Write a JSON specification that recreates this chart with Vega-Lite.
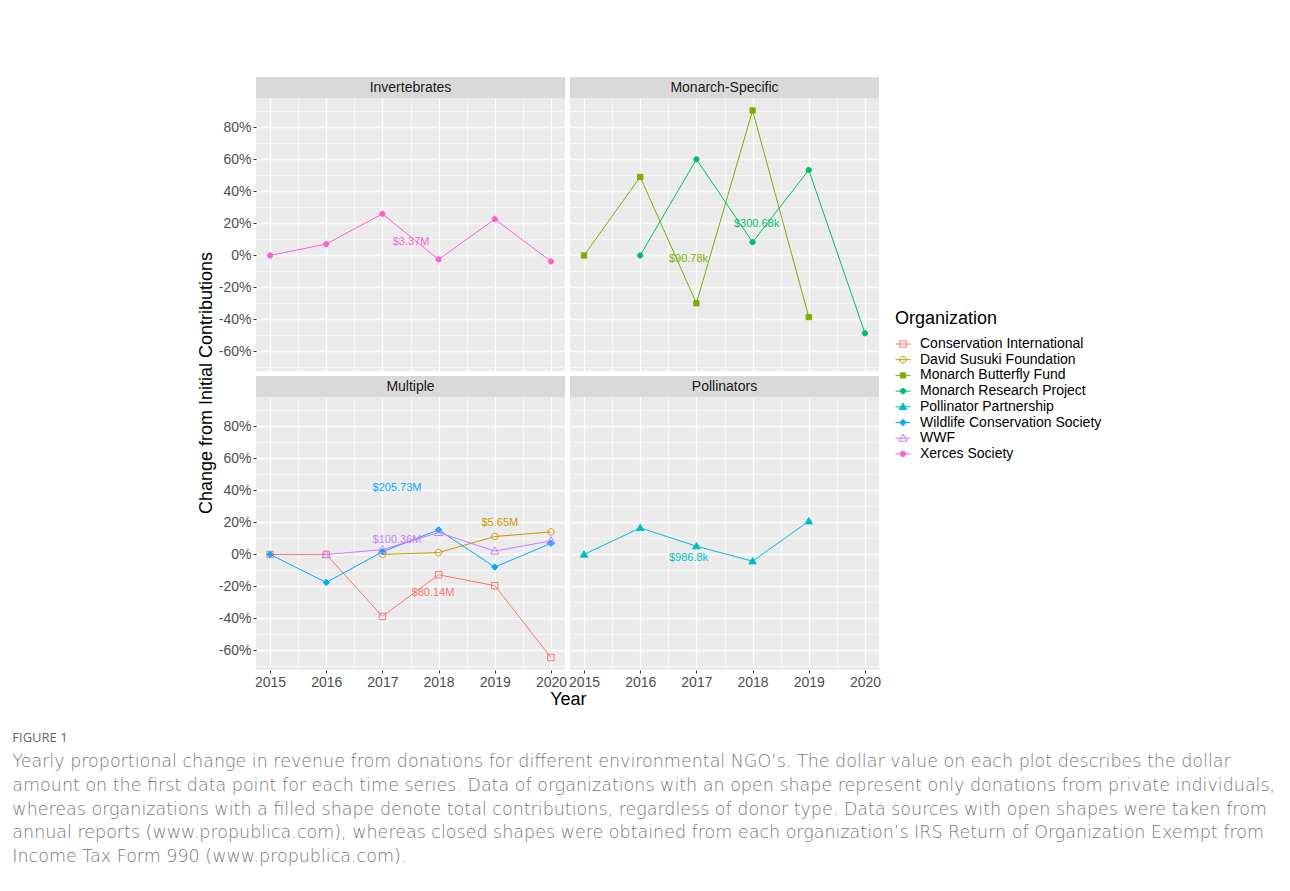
{
  "$schema": "https://vega.github.io/schema/vega-lite/v6.json",
  "background": "white",
  "padding": {"left": 12, "top": 77, "right": 5, "bottom": 5},
  "datasets": {
    "pts": [
      {"panel": "Invertebrates", "org": "Xerces Society", "year": 2015, "change": 0},
      {"panel": "Invertebrates", "org": "Xerces Society", "year": 2016, "change": 0.071},
      {"panel": "Invertebrates", "org": "Xerces Society", "year": 2017, "change": 0.26},
      {"panel": "Invertebrates", "org": "Xerces Society", "year": 2018, "change": -0.025},
      {"panel": "Invertebrates", "org": "Xerces Society", "year": 2019, "change": 0.227},
      {"panel": "Invertebrates", "org": "Xerces Society", "year": 2020, "change": -0.037},
      {"panel": "Monarch-Specific", "org": "Monarch Butterfly Fund", "year": 2015, "change": 0},
      {"panel": "Monarch-Specific", "org": "Monarch Butterfly Fund", "year": 2016, "change": 0.491},
      {"panel": "Monarch-Specific", "org": "Monarch Butterfly Fund", "year": 2017, "change": -0.299},
      {"panel": "Monarch-Specific", "org": "Monarch Butterfly Fund", "year": 2018, "change": 0.906},
      {"panel": "Monarch-Specific", "org": "Monarch Butterfly Fund", "year": 2019, "change": -0.385},
      {"panel": "Monarch-Specific", "org": "Monarch Research Project", "year": 2016, "change": 0},
      {"panel": "Monarch-Specific", "org": "Monarch Research Project", "year": 2017, "change": 0.601},
      {"panel": "Monarch-Specific", "org": "Monarch Research Project", "year": 2018, "change": 0.083},
      {"panel": "Monarch-Specific", "org": "Monarch Research Project", "year": 2019, "change": 0.534},
      {"panel": "Monarch-Specific", "org": "Monarch Research Project", "year": 2020, "change": -0.486},
      {"panel": "Multiple", "org": "Conservation International", "year": 2015, "change": 0},
      {"panel": "Multiple", "org": "Conservation International", "year": 2016, "change": 0},
      {"panel": "Multiple", "org": "Conservation International", "year": 2017, "change": -0.387},
      {"panel": "Multiple", "org": "Conservation International", "year": 2018, "change": -0.127},
      {"panel": "Multiple", "org": "Conservation International", "year": 2019, "change": -0.195},
      {"panel": "Multiple", "org": "Conservation International", "year": 2020, "change": -0.644},
      {"panel": "Multiple", "org": "David Susuki Foundation", "year": 2017, "change": 0},
      {"panel": "Multiple", "org": "David Susuki Foundation", "year": 2018, "change": 0.012},
      {"panel": "Multiple", "org": "David Susuki Foundation", "year": 2019, "change": 0.112},
      {"panel": "Multiple", "org": "David Susuki Foundation", "year": 2020, "change": 0.141},
      {"panel": "Multiple", "org": "Wildlife Conservation Society", "year": 2015, "change": 0},
      {"panel": "Multiple", "org": "Wildlife Conservation Society", "year": 2016, "change": -0.175},
      {"panel": "Multiple", "org": "Wildlife Conservation Society", "year": 2017, "change": 0.017},
      {"panel": "Multiple", "org": "Wildlife Conservation Society", "year": 2018, "change": 0.154},
      {"panel": "Multiple", "org": "Wildlife Conservation Society", "year": 2019, "change": -0.079},
      {"panel": "Multiple", "org": "Wildlife Conservation Society", "year": 2020, "change": 0.069},
      {"panel": "Multiple", "org": "WWF", "year": 2016, "change": 0},
      {"panel": "Multiple", "org": "WWF", "year": 2017, "change": 0.03},
      {"panel": "Multiple", "org": "WWF", "year": 2018, "change": 0.137},
      {"panel": "Multiple", "org": "WWF", "year": 2019, "change": 0.021},
      {"panel": "Multiple", "org": "WWF", "year": 2020, "change": 0.085},
      {"panel": "Pollinators", "org": "Pollinator Partnership", "year": 2015, "change": 0},
      {"panel": "Pollinators", "org": "Pollinator Partnership", "year": 2016, "change": 0.166},
      {"panel": "Pollinators", "org": "Pollinator Partnership", "year": 2017, "change": 0.052},
      {"panel": "Pollinators", "org": "Pollinator Partnership", "year": 2018, "change": -0.042},
      {"panel": "Pollinators", "org": "Pollinator Partnership", "year": 2019, "change": 0.208}
    ],
    "labs": [
      {"panel": "Invertebrates", "org": "Xerces Society", "year": 2017.51, "change": 0.083, "label": "$3.37M"},
      {"panel": "Monarch-Specific", "org": "Monarch Butterfly Fund", "year": 2016.86, "change": -0.023, "label": "$90.78k"},
      {"panel": "Monarch-Specific", "org": "Monarch Research Project", "year": 2018.07, "change": 0.196, "label": "$300.68k"},
      {"panel": "Multiple", "org": "Wildlife Conservation Society", "year": 2017.26, "change": 0.417, "label": "$205.73M"},
      {"panel": "Multiple", "org": "David Susuki Foundation", "year": 2019.09, "change": 0.198, "label": "$5.65M"},
      {"panel": "Multiple", "org": "WWF", "year": 2017.26, "change": 0.0875, "label": "$100.36M"},
      {"panel": "Multiple", "org": "Conservation International", "year": 2017.9, "change": -0.24, "label": "$80.14M"},
      {"panel": "Pollinators", "org": "Pollinator Partnership", "year": 2016.86, "change": -0.023, "label": "$986.8k"}
    ]
  },
  "title": {
    "text": "FIGURE 1",
    "subtitle": [
      "Yearly proportional change in revenue from donations for different environmental NGO’s. The dollar value on each plot describes the dollar",
      "amount on the first data point for each time series. Data of organizations with an open shape represent only donations from private individuals,",
      "whereas organizations with a filled shape denote total contributions, regardless of donor type. Data sources with open shapes were taken from",
      "annual reports (www.propublica.com), whereas closed shapes were obtained from each organization’s IRS Return of Organization Exempt from",
      "Income Tax Form 990 (www.propublica.com)."
    ],
    "orient": "bottom", "anchor": "start", "dx": -186, "offset": 23,
    "font": "Open Sans", "fontSize": 13, "fontWeight": "normal", "color": "#666666",
    "subtitleFont": "DejaVu Sans", "subtitleFontSize": 17.5, "subtitleFontWeight": 200, "subtitleColor": "#777777",
    "subtitleLineHeight": 23.8, "subtitlePadding": 8
  },
  "vconcat": [
    {
      "title": {"text": "Year", "orient": "bottom", "anchor": "middle", "dx": 29, "offset": 2, "font": "Liberation Sans", "fontSize": 18, "fontWeight": "normal", "color": "black"},
      "vconcat": [
        {
          "title": {"text": "Change from Initial Contributions", "orient": "left", "anchor": "middle", "offset": 2, "font": "Liberation Sans", "fontSize": 18, "fontWeight": "normal", "color": "black"},
          "spacing": 1,
          "vconcat": [
            {
              "spacing": 5,
              "hconcat": [
                {
                  "spacing": 0,
                  "vconcat": [
                    {"width": 309, "height": 21, "view": {"fill": "#D9D9D9", "stroke": null}, "data": {"values": [{"p": "Invertebrates"}]}, "mark": {"type": "text", "fontSize": 14, "font": "Liberation Sans", "color": "#1A1A1A"}, "encoding": {"text": {"field": "p"}}},
                    {
                      "width": 309, "height": 273,
                      "encoding": {
                        "x": {"field": "year", "type": "quantitative", "scale": {"domain": [2014.75, 2020.25], "nice": false, "zero": false}, "axis": {"values": [2015, 2015.5, 2016, 2016.5, 2017, 2017.5, 2018, 2018.5, 2019, 2019.5, 2020], "labels": false, "ticks": false, "title": null, "gridWidth": {"condition": {"test": "datum.value % 1 != 0", "value": 0.6}, "value": 1.3}}},
                        "y": {"field": "change", "type": "quantitative", "scale": {"domain": [-0.722, 0.984], "nice": false, "zero": false}, "axis": {"values": [-0.7, -0.6, -0.5, -0.4, -0.3, -0.2, -0.1, 0, 0.1, 0.2, 0.3, 0.4, 0.5, 0.6, 0.7, 0.8, 0.9], "labelExpr": "round(datum.value*100) % 20 != 0 ? '' : round(datum.value*100) + '%'", "labelOverlap": false, "tickOpacity": {"condition": {"test": "round(datum.value*100) % 20 != 0", "value": 0}, "value": 1}, "title": null, "gridWidth": {"condition": {"test": "round(datum.value*100) % 20 != 0", "value": 0.6}, "value": 1.3}}}
                      },
                      "layer": [
                        {"data": {"name": "pts"}, "transform": [{"filter": "datum.panel === 'Invertebrates'"}], "mark": {"type": "line", "strokeWidth": 1}, "encoding": {"color": {"field": "org", "type": "nominal", "scale": {"domain": ["Xerces Society", "WWF", "Wildlife Conservation Society", "Pollinator Partnership", "Monarch Research Project", "Monarch Butterfly Fund", "David Susuki Foundation", "Conservation International"], "range": ["#FF61CC", "#C77CFF", "#00A9FF", "#00BFC4", "#00BE67", "#7CAE00", "#CD9600", "#F8766D"]}, "legend": {"title": "Organization", "values": ["Conservation International", "David Susuki Foundation", "Monarch Butterfly Fund", "Monarch Research Project", "Pollinator Partnership", "Wildlife Conservation Society", "WWF", "Xerces Society"], "symbolType": "stroke", "orient": "none", "legendX": 639, "legendY": 233, "symbolSize": 225, "symbolStrokeWidth": 1, "labelFontSize": 14, "labelFont": "Liberation Sans", "labelColor": "transparent", "titleFontSize": 18, "titleFont": "Liberation Sans", "titleFontWeight": "normal", "titleColor": "transparent", "rowPadding": 0.7, "labelOffset": 9, "titlePadding": 8, "labelLimit": 400}}}},
                        {"data": {"name": "pts"}, "transform": [{"filter": "datum.panel === 'Invertebrates'"}], "mark": {"type": "point", "opacity": 1, "size": 225, "strokeWidth": 1}, "encoding": {
                          "shape": {"field": "org", "type": "nominal", "scale": {"domain": ["Conservation International", "David Susuki Foundation", "Monarch Butterfly Fund", "Monarch Research Project", "Pollinator Partnership", "Wildlife Conservation Society", "WWF", "Xerces Society"], "range": ["M-0.43,-0.43H0.43V0.43H-0.43Z", "M0.43,0C0.43,0.2375 0.2375,0.43 0,0.43C-0.2375,0.43 -0.43,0.2375 -0.43,0C-0.43,-0.2375 -0.2375,-0.43 0,-0.43C0.2375,-0.43 0.43,-0.2375 0.43,0Z", "M-0.35,-0.35H0.35V0.35H-0.35Z", "M0.35,0C0.35,0.1933 0.1933,0.35 0,0.35C-0.1933,0.35 -0.35,0.1933 -0.35,0C-0.35,-0.1933 -0.1933,-0.35 0,-0.35C0.1933,-0.35 0.35,-0.1933 0.35,0Z", "M0,-0.5L0.5,0.36L-0.5,0.36Z", "M0,-0.42L0.42,0L0,0.42L-0.42,0Z", "M0,-0.56L0.56,0.4L-0.56,0.4Z", "M0.35,0C0.35,0.1933 0.1933,0.35 0,0.35C-0.1933,0.35 -0.35,0.1933 -0.35,0C-0.35,-0.1933 -0.1933,-0.35 0,-0.35C0.1933,-0.35 0.35,-0.1933 0.35,0Z"]}, "legend": {"title": "Organization", "orient": "none", "legendX": 639, "legendY": 233, "symbolSize": 225, "symbolStrokeWidth": 1, "labelFontSize": 14, "labelFont": "Liberation Sans", "labelColor": "black", "titleFontSize": 18, "titleFont": "Liberation Sans", "titleFontWeight": "normal", "titleColor": "black", "rowPadding": 0.7, "labelOffset": 9, "titlePadding": 8, "labelLimit": 400}},
                          "stroke": {"field": "org", "type": "nominal", "scale": {"domain": ["Conservation International", "David Susuki Foundation", "Monarch Butterfly Fund", "Monarch Research Project", "Pollinator Partnership", "Wildlife Conservation Society", "WWF", "Xerces Society"], "range": ["#F8766D", "#CD9600", "#7CAE00", "#00BE67", "#00BFC4", "#00A9FF", "#C77CFF", "#FF61CC"]}, "legend": {"title": "Organization", "orient": "none", "legendX": 639, "legendY": 233, "symbolSize": 225, "symbolStrokeWidth": 1, "labelFontSize": 14, "labelFont": "Liberation Sans", "labelColor": "black", "titleFontSize": 18, "titleFont": "Liberation Sans", "titleFontWeight": "normal", "titleColor": "black", "rowPadding": 0.7, "labelOffset": 9, "titlePadding": 8, "labelLimit": 400}},
                          "fill": {"field": "org", "type": "nominal", "scale": {"domain": ["Conservation International", "David Susuki Foundation", "Monarch Butterfly Fund", "Monarch Research Project", "Pollinator Partnership", "Wildlife Conservation Society", "WWF", "Xerces Society"], "range": ["transparent", "transparent", "#7CAE00", "#00BE67", "#00BFC4", "#00A9FF", "transparent", "#FF61CC"]}, "legend": {"title": "Organization", "orient": "none", "legendX": 639, "legendY": 233, "symbolSize": 225, "symbolStrokeWidth": 1, "labelFontSize": 14, "labelFont": "Liberation Sans", "labelColor": "black", "titleFontSize": 18, "titleFont": "Liberation Sans", "titleFontWeight": "normal", "titleColor": "black", "rowPadding": 0.7, "labelOffset": 9, "titlePadding": 8, "labelLimit": 400}}
                        }},
                        {"data": {"name": "labs"}, "transform": [{"filter": "datum.panel === 'Invertebrates'"}], "mark": {"type": "text", "fontSize": 11, "font": "Liberation Sans"}, "encoding": {"text": {"field": "label"}, "color": {"field": "org", "type": "nominal", "legend": null}}}
                      ]
                    }
                  ]
                },
                {
                  "spacing": 0,
                  "vconcat": [
                    {"width": 309, "height": 21, "view": {"fill": "#D9D9D9", "stroke": null}, "data": {"values": [{"p": "Monarch-Specific"}]}, "mark": {"type": "text", "fontSize": 14, "font": "Liberation Sans", "color": "#1A1A1A"}, "encoding": {"text": {"field": "p"}}},
                    {
                      "width": 309, "height": 273,
                      "encoding": {
                        "x": {"field": "year", "type": "quantitative", "scale": {"domain": [2014.75, 2020.25], "nice": false, "zero": false}, "axis": {"values": [2015, 2015.5, 2016, 2016.5, 2017, 2017.5, 2018, 2018.5, 2019, 2019.5, 2020], "labels": false, "ticks": false, "title": null, "gridWidth": {"condition": {"test": "datum.value % 1 != 0", "value": 0.6}, "value": 1.3}}},
                        "y": {"field": "change", "type": "quantitative", "scale": {"domain": [-0.722, 0.984], "nice": false, "zero": false}, "axis": {"values": [-0.7, -0.6, -0.5, -0.4, -0.3, -0.2, -0.1, 0, 0.1, 0.2, 0.3, 0.4, 0.5, 0.6, 0.7, 0.8, 0.9], "labels": false, "ticks": false, "title": null, "gridWidth": {"condition": {"test": "round(datum.value*100) % 20 != 0", "value": 0.6}, "value": 1.3}}}
                      },
                      "layer": [
                        {"data": {"name": "pts"}, "transform": [{"filter": "datum.panel === 'Monarch-Specific'"}], "mark": {"type": "line", "strokeWidth": 1}, "encoding": {"color": {"field": "org", "type": "nominal"}}},
                        {"data": {"name": "pts"}, "transform": [{"filter": "datum.panel === 'Monarch-Specific'"}], "mark": {"type": "point", "opacity": 1, "size": 225, "strokeWidth": 1}, "encoding": {"shape": {"field": "org", "type": "nominal"}, "stroke": {"field": "org", "type": "nominal"}, "fill": {"field": "org", "type": "nominal"}}},
                        {"data": {"name": "labs"}, "transform": [{"filter": "datum.panel === 'Monarch-Specific'"}], "mark": {"type": "text", "fontSize": 11, "font": "Liberation Sans"}, "encoding": {"text": {"field": "label"}, "color": {"field": "org", "type": "nominal", "legend": null}}}
                      ]
                    }
                  ]
                }
              ]
            },
            {
              "spacing": 1,
              "hconcat": [
                {
                  "spacing": 0,
                  "vconcat": [
                    {"width": 309, "height": 21, "view": {"fill": "#D9D9D9", "stroke": null}, "data": {"values": [{"p": "Multiple"}]}, "mark": {"type": "text", "fontSize": 14, "font": "Liberation Sans", "color": "#1A1A1A"}, "encoding": {"text": {"field": "p"}}},
                    {
                      "width": 309, "height": 273,
                      "encoding": {
                        "x": {"field": "year", "type": "quantitative", "scale": {"domain": [2014.75, 2020.25], "nice": false, "zero": false}, "axis": {"values": [2015, 2015.5, 2016, 2016.5, 2017, 2017.5, 2018, 2018.5, 2019, 2019.5, 2020], "labelExpr": "datum.value % 1 != 0 ? '' : format(datum.value, 'd')", "labelOverlap": false, "labelFlush": false, "tickOpacity": {"condition": {"test": "datum.value % 1 != 0", "value": 0}, "value": 1}, "title": null, "gridWidth": {"condition": {"test": "datum.value % 1 != 0", "value": 0.6}, "value": 1.3}}},
                        "y": {"field": "change", "type": "quantitative", "scale": {"domain": [-0.722, 0.984], "nice": false, "zero": false}, "axis": {"values": [-0.7, -0.6, -0.5, -0.4, -0.3, -0.2, -0.1, 0, 0.1, 0.2, 0.3, 0.4, 0.5, 0.6, 0.7, 0.8, 0.9], "labelExpr": "round(datum.value*100) % 20 != 0 ? '' : round(datum.value*100) + '%'", "labelOverlap": false, "tickOpacity": {"condition": {"test": "round(datum.value*100) % 20 != 0", "value": 0}, "value": 1}, "title": null, "gridWidth": {"condition": {"test": "round(datum.value*100) % 20 != 0", "value": 0.6}, "value": 1.3}}}
                      },
                      "layer": [
                        {"data": {"name": "pts"}, "transform": [{"filter": "datum.panel === 'Multiple'"}], "mark": {"type": "line", "strokeWidth": 1}, "encoding": {"color": {"field": "org", "type": "nominal"}}},
                        {"data": {"name": "pts"}, "transform": [{"filter": "datum.panel === 'Multiple'"}], "mark": {"type": "point", "opacity": 1, "size": 225, "strokeWidth": 1}, "encoding": {"shape": {"field": "org", "type": "nominal"}, "stroke": {"field": "org", "type": "nominal"}, "fill": {"field": "org", "type": "nominal"}}},
                        {"data": {"name": "labs"}, "transform": [{"filter": "datum.panel === 'Multiple'"}], "mark": {"type": "text", "fontSize": 11, "font": "Liberation Sans"}, "encoding": {"text": {"field": "label"}, "color": {"field": "org", "type": "nominal", "legend": null}}}
                      ]
                    }
                  ]
                },
                {
                  "spacing": 0,
                  "vconcat": [
                    {"width": 309, "height": 21, "view": {"fill": "#D9D9D9", "stroke": null}, "data": {"values": [{"p": "Pollinators"}]}, "mark": {"type": "text", "fontSize": 14, "font": "Liberation Sans", "color": "#1A1A1A"}, "encoding": {"text": {"field": "p"}}},
                    {
                      "width": 309, "height": 273,
                      "encoding": {
                        "x": {"field": "year", "type": "quantitative", "scale": {"domain": [2014.75, 2020.25], "nice": false, "zero": false}, "axis": {"values": [2015, 2015.5, 2016, 2016.5, 2017, 2017.5, 2018, 2018.5, 2019, 2019.5, 2020], "labelExpr": "datum.value % 1 != 0 ? '' : format(datum.value, 'd')", "labelOverlap": false, "labelFlush": false, "tickOpacity": {"condition": {"test": "datum.value % 1 != 0", "value": 0}, "value": 1}, "title": null, "gridWidth": {"condition": {"test": "datum.value % 1 != 0", "value": 0.6}, "value": 1.3}}},
                        "y": {"field": "change", "type": "quantitative", "scale": {"domain": [-0.722, 0.984], "nice": false, "zero": false}, "axis": {"values": [-0.7, -0.6, -0.5, -0.4, -0.3, -0.2, -0.1, 0, 0.1, 0.2, 0.3, 0.4, 0.5, 0.6, 0.7, 0.8, 0.9], "labels": false, "ticks": false, "title": null, "gridWidth": {"condition": {"test": "round(datum.value*100) % 20 != 0", "value": 0.6}, "value": 1.3}}}
                      },
                      "layer": [
                        {"data": {"name": "pts"}, "transform": [{"filter": "datum.panel === 'Pollinators'"}], "mark": {"type": "line", "strokeWidth": 1}, "encoding": {"color": {"field": "org", "type": "nominal"}}},
                        {"data": {"name": "pts"}, "transform": [{"filter": "datum.panel === 'Pollinators'"}], "mark": {"type": "point", "opacity": 1, "size": 225, "strokeWidth": 1}, "encoding": {"shape": {"field": "org", "type": "nominal"}, "stroke": {"field": "org", "type": "nominal"}, "fill": {"field": "org", "type": "nominal"}}},
                        {"data": {"name": "labs"}, "transform": [{"filter": "datum.panel === 'Pollinators'"}], "mark": {"type": "text", "fontSize": 11, "font": "Liberation Sans"}, "encoding": {"text": {"field": "label"}, "color": {"field": "org", "type": "nominal", "legend": null}}}
                      ]
                    }
                  ]
                }
              ]
            }
          ]
        }
      ]
    }
  ],
  "config": {
    "font": "Liberation Sans",
    "view": {"stroke": null, "fill": "#EBEBEB"},
    "axis": {"domain": false, "grid": true, "gridColor": "#FFFFFF", "labelColor": "#4D4D4D", "labelFont": "Liberation Sans", "labelFontSize": 14, "tickColor": "#333333", "tickSize": 3, "tickWidth": 1, "labelPadding": 2}
  }
}
